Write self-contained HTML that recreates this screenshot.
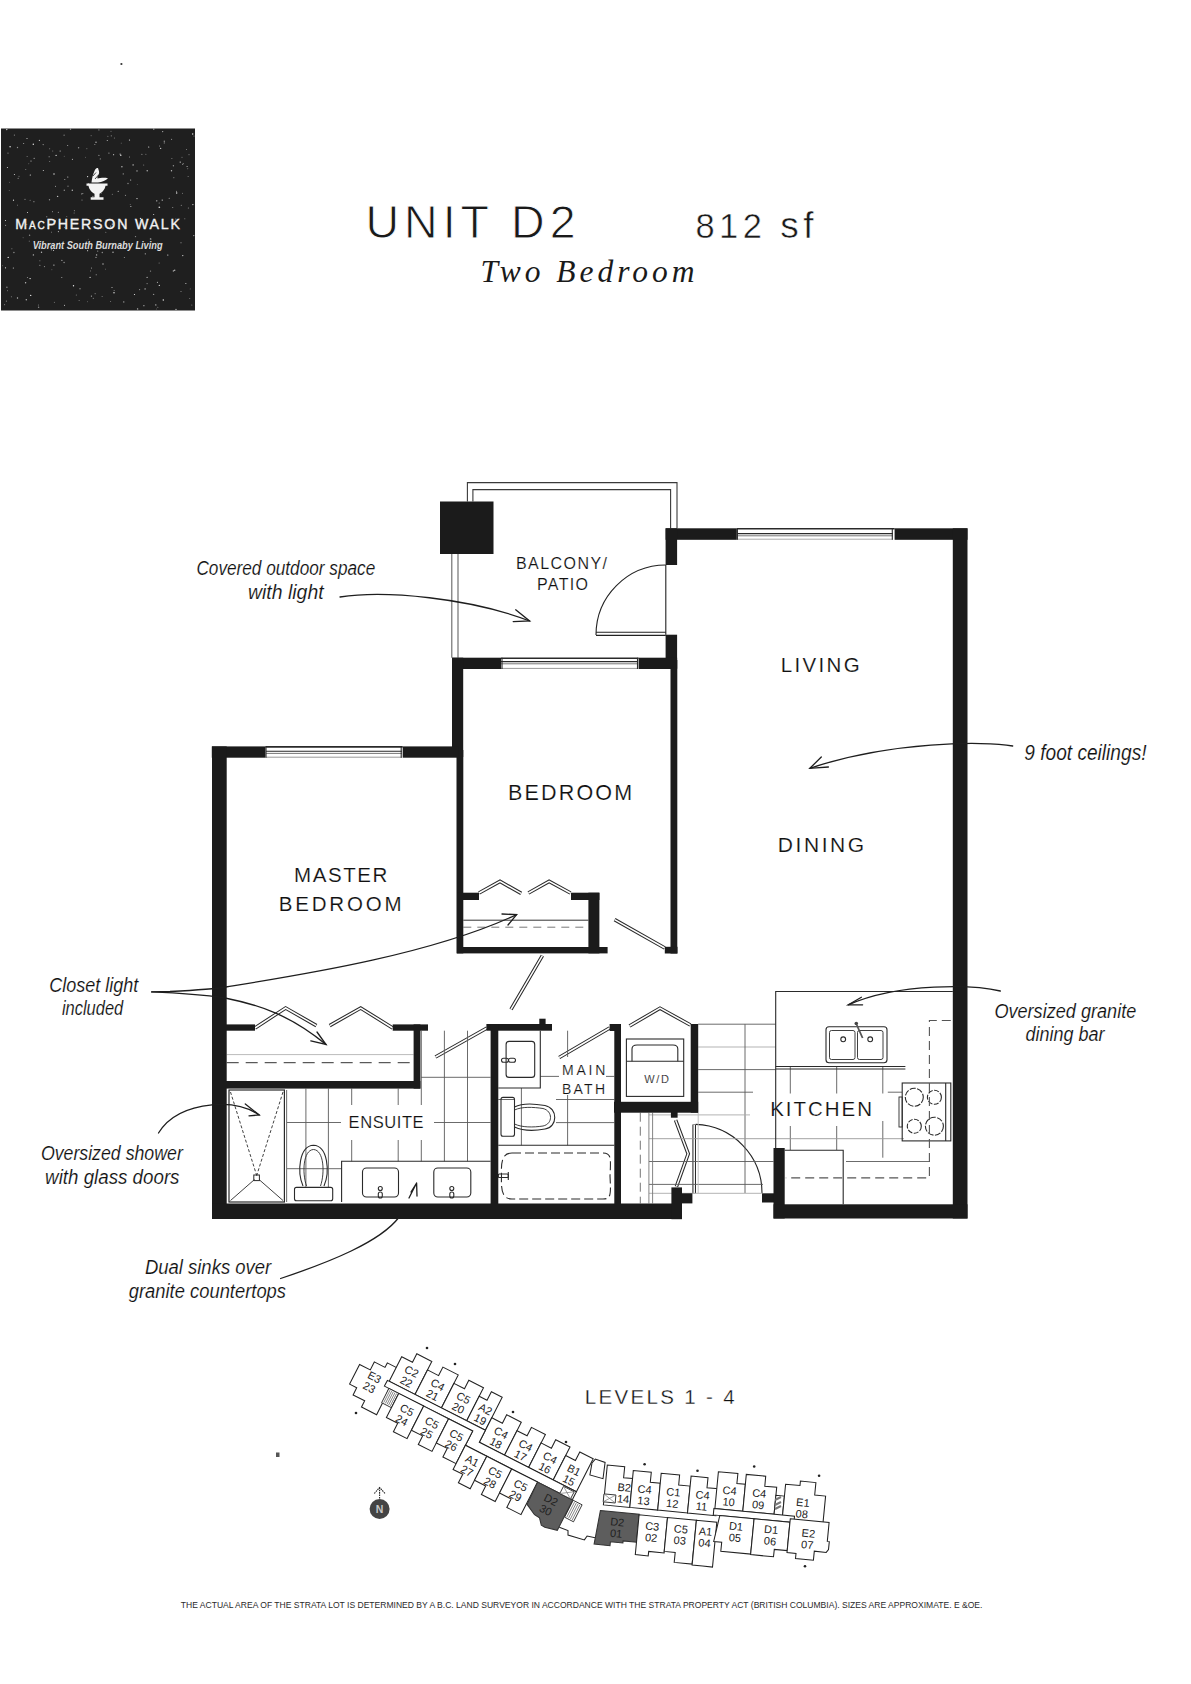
<!DOCTYPE html>
<html><head><meta charset="utf-8">
<style>
html,body{margin:0;padding:0;background:#fff;}
body{width:1191px;height:1684px;position:relative;overflow:hidden;font-family:"Liberation Sans",sans-serif;}
svg{position:absolute;left:0;top:0;}
</style></head>
<body>
<svg width="1191" height="1684" viewBox="0 0 1191 1684" font-family="Liberation Sans">
<!-- LOGO -->
<g id="logo">
<rect x="1" y="128.5" width="194" height="182" fill="#1f1f1f"/>
<g fill="#f4f4f4">
<path d="M86.5 183.5H107.5V185.8H105.5C105 189.5 102 192.5 99.5 193.8V197.2H103.5V199.8H90.7V197.2H94.5V193.8C92 192.5 89 189.5 88.5 185.8H86.5Z"/>
<path d="M91.5 182.5C92 178 93 174 94.5 171C95 169 96.5 167.5 98 168C98.5 170 99.5 171.5 99 173.5C98 175.5 97 177 97.5 178.5C100 178 104 177.5 108 178.2C106 180.5 102 182 98 182.5Z"/>
<path d="M93 176L96 172.5M95 179L98.5 175" stroke="#1f1f1f" stroke-width="0.8"/>
</g>
<text x="15.3" y="228.8" font-size="14.2" fill="#f2f2f2" stroke="#f2f2f2" stroke-width="0.35" textLength="164.7" lengthAdjust="spacing">M<tspan font-size="10">AC</tspan>PHERSON WALK</text>
<text x="32.7" y="249.2" font-size="10" font-style="italic" font-weight="bold" fill="#dcdcdc" textLength="129.9" lengthAdjust="spacingAndGlyphs">Vibrant South Burnaby Living</text>
</g>

<!-- LOGO SPECKLE -->
<g fill="#fff">
<circle cx="64.2" cy="156.3" r="0.45" fill-opacity="0.5"/><circle cx="159.7" cy="146.0" r="0.45" fill-opacity="0.9"/><circle cx="43.2" cy="144.6" r="0.7" fill-opacity="0.5"/><circle cx="48.2" cy="228.7" r="0.45" fill-opacity="0.9"/><circle cx="25.8" cy="169.4" r="0.45" fill-opacity="0.9"/><circle cx="114.4" cy="138.0" r="0.5" fill-opacity="0.5"/><circle cx="108.9" cy="153.1" r="0.7" fill-opacity="0.5"/><circle cx="105.8" cy="232.3" r="0.5" fill-opacity="0.5"/><circle cx="113.7" cy="244.6" r="0.6" fill-opacity="0.5"/><circle cx="107.2" cy="140.4" r="0.45" fill-opacity="0.9"/><circle cx="41.5" cy="252.2" r="0.7" fill-opacity="0.7"/><circle cx="91.4" cy="296.1" r="0.6" fill-opacity="0.7"/><circle cx="49.7" cy="161.5" r="0.5" fill-opacity="0.5"/><circle cx="112.3" cy="224.1" r="0.6" fill-opacity="0.9"/><circle cx="88.2" cy="239.2" r="0.45" fill-opacity="0.5"/><circle cx="100.3" cy="158.9" r="0.6" fill-opacity="0.5"/><circle cx="181.2" cy="205.3" r="0.45" fill-opacity="0.9"/><circle cx="112.0" cy="287.5" r="0.6" fill-opacity="0.7"/><circle cx="135.5" cy="236.6" r="0.7" fill-opacity="0.5"/><circle cx="163.3" cy="300.0" r="0.7" fill-opacity="0.9"/><circle cx="129.5" cy="140.0" r="0.6" fill-opacity="0.9"/><circle cx="113.0" cy="252.3" r="0.7" fill-opacity="0.7"/><circle cx="139.6" cy="289.6" r="0.6" fill-opacity="0.5"/><circle cx="182.6" cy="193.3" r="0.45" fill-opacity="0.7"/><circle cx="13.3" cy="268.1" r="0.5" fill-opacity="0.9"/><circle cx="49.5" cy="199.8" r="0.7" fill-opacity="0.5"/><circle cx="33.9" cy="201.7" r="0.6" fill-opacity="0.5"/><circle cx="159.3" cy="285.4" r="0.6" fill-opacity="0.9"/><circle cx="81.7" cy="193.9" r="0.7" fill-opacity="0.5"/><circle cx="31.0" cy="160.9" r="0.5" fill-opacity="0.9"/><circle cx="46.8" cy="216.8" r="0.5" fill-opacity="0.7"/><circle cx="56.1" cy="155.4" r="0.6" fill-opacity="0.9"/><circle cx="110.7" cy="301.5" r="0.45" fill-opacity="0.7"/><circle cx="174.7" cy="270.2" r="0.7" fill-opacity="0.7"/><circle cx="78.6" cy="147.7" r="0.7" fill-opacity="0.5"/><circle cx="38.6" cy="307.2" r="0.7" fill-opacity="0.5"/><circle cx="23.1" cy="237.7" r="0.45" fill-opacity="0.5"/><circle cx="110.8" cy="226.1" r="0.6" fill-opacity="0.9"/><circle cx="6.9" cy="287.3" r="0.7" fill-opacity="0.5"/><circle cx="123.8" cy="301.9" r="0.6" fill-opacity="0.7"/><circle cx="25.6" cy="282.7" r="0.7" fill-opacity="0.7"/><circle cx="94.9" cy="144.5" r="0.45" fill-opacity="0.9"/><circle cx="67.8" cy="176.9" r="0.5" fill-opacity="0.9"/><circle cx="6.4" cy="301.1" r="0.6" fill-opacity="0.5"/><circle cx="134.5" cy="294.5" r="0.6" fill-opacity="0.9"/><circle cx="167.8" cy="255.0" r="0.6" fill-opacity="0.9"/><circle cx="72.4" cy="159.2" r="0.5" fill-opacity="0.9"/><circle cx="106.0" cy="220.0" r="0.5" fill-opacity="0.9"/><circle cx="157.8" cy="307.3" r="0.5" fill-opacity="0.5"/><circle cx="159.1" cy="262.9" r="0.5" fill-opacity="0.5"/><circle cx="101.4" cy="193.4" r="0.45" fill-opacity="0.5"/><circle cx="153.7" cy="214.5" r="0.5" fill-opacity="0.9"/><circle cx="118.2" cy="191.3" r="0.6" fill-opacity="0.7"/><circle cx="17.5" cy="147.5" r="0.7" fill-opacity="0.5"/><circle cx="66.8" cy="216.4" r="0.45" fill-opacity="0.7"/><circle cx="176.6" cy="191.3" r="0.45" fill-opacity="0.9"/><circle cx="25.0" cy="199.3" r="0.5" fill-opacity="0.7"/><circle cx="172.7" cy="207.5" r="0.6" fill-opacity="0.5"/><circle cx="155.8" cy="304.9" r="0.7" fill-opacity="0.7"/><circle cx="79.1" cy="300.4" r="0.5" fill-opacity="0.5"/><circle cx="192.7" cy="134.0" r="0.7" fill-opacity="0.9"/><circle cx="30.1" cy="278.6" r="0.7" fill-opacity="0.9"/><circle cx="182.0" cy="157.2" r="0.5" fill-opacity="0.5"/><circle cx="4.7" cy="304.7" r="0.45" fill-opacity="0.9"/><circle cx="145.9" cy="154.2" r="0.5" fill-opacity="0.5"/><circle cx="7.4" cy="167.5" r="0.5" fill-opacity="0.9"/><circle cx="64.6" cy="227.5" r="0.5" fill-opacity="0.5"/><circle cx="176.7" cy="193.0" r="0.7" fill-opacity="0.9"/><circle cx="114.0" cy="292.7" r="0.7" fill-opacity="0.9"/><circle cx="27.1" cy="156.5" r="0.45" fill-opacity="0.7"/><circle cx="151.1" cy="239.1" r="0.5" fill-opacity="0.5"/><circle cx="29.2" cy="241.1" r="0.45" fill-opacity="0.9"/><circle cx="13.9" cy="252.5" r="0.7" fill-opacity="0.5"/><circle cx="171.6" cy="139.3" r="0.5" fill-opacity="0.7"/><circle cx="10.1" cy="146.7" r="0.7" fill-opacity="0.9"/><circle cx="7.4" cy="290.8" r="0.45" fill-opacity="0.7"/><circle cx="64.5" cy="305.2" r="0.5" fill-opacity="0.9"/><circle cx="55.2" cy="221.0" r="0.7" fill-opacity="0.9"/><circle cx="182.8" cy="255.6" r="0.6" fill-opacity="0.9"/><circle cx="173.4" cy="165.7" r="0.7" fill-opacity="0.5"/><circle cx="82.0" cy="200.0" r="0.6" fill-opacity="0.5"/><circle cx="130.9" cy="206.5" r="0.5" fill-opacity="0.9"/><circle cx="60.1" cy="151.1" r="0.5" fill-opacity="0.9"/><circle cx="125.5" cy="195.3" r="0.6" fill-opacity="0.5"/><circle cx="187.8" cy="168.7" r="0.45" fill-opacity="0.7"/><circle cx="171.9" cy="158.5" r="0.5" fill-opacity="0.5"/><circle cx="137.6" cy="308.9" r="0.7" fill-opacity="0.7"/><circle cx="82.9" cy="193.5" r="0.45" fill-opacity="0.9"/><circle cx="72.3" cy="190.2" r="0.7" fill-opacity="0.7"/><circle cx="137.0" cy="198.6" r="0.6" fill-opacity="0.9"/><circle cx="186.5" cy="149.4" r="0.5" fill-opacity="0.5"/><circle cx="18.1" cy="178.2" r="0.5" fill-opacity="0.7"/><circle cx="147.1" cy="277.4" r="0.6" fill-opacity="0.7"/><circle cx="30.7" cy="295.4" r="0.7" fill-opacity="0.9"/><circle cx="64.8" cy="179.5" r="0.5" fill-opacity="0.7"/><circle cx="173.9" cy="177.7" r="0.45" fill-opacity="0.9"/><circle cx="19.0" cy="176.2" r="0.5" fill-opacity="0.5"/><circle cx="52.8" cy="151.0" r="0.45" fill-opacity="0.7"/><circle cx="192.9" cy="204.6" r="0.6" fill-opacity="0.9"/><circle cx="26.8" cy="224.4" r="0.5" fill-opacity="0.5"/><circle cx="188.1" cy="176.4" r="0.5" fill-opacity="0.5"/><circle cx="181.0" cy="242.8" r="0.5" fill-opacity="0.7"/><circle cx="87.6" cy="250.7" r="0.6" fill-opacity="0.7"/><circle cx="156.3" cy="309.0" r="0.45" fill-opacity="0.5"/><circle cx="5.5" cy="220.5" r="0.5" fill-opacity="0.9"/><circle cx="93.2" cy="298.2" r="0.45" fill-opacity="0.9"/><circle cx="159.2" cy="207.2" r="0.7" fill-opacity="0.9"/><circle cx="162.2" cy="200.1" r="0.6" fill-opacity="0.9"/><circle cx="43.3" cy="170.6" r="0.5" fill-opacity="0.9"/><circle cx="141.9" cy="154.3" r="0.6" fill-opacity="0.5"/><circle cx="162.7" cy="131.6" r="0.6" fill-opacity="0.7"/><circle cx="33.3" cy="144.3" r="0.7" fill-opacity="0.9"/><circle cx="130.7" cy="180.0" r="0.5" fill-opacity="0.9"/><circle cx="58.3" cy="212.2" r="0.5" fill-opacity="0.7"/><circle cx="87.6" cy="176.6" r="0.6" fill-opacity="0.9"/><circle cx="64.1" cy="135.2" r="0.6" fill-opacity="0.5"/><circle cx="70.5" cy="129.2" r="0.7" fill-opacity="0.5"/><circle cx="93.1" cy="220.0" r="0.5" fill-opacity="0.5"/><circle cx="98.9" cy="129.9" r="0.6" fill-opacity="0.5"/><circle cx="29.6" cy="235.2" r="0.7" fill-opacity="0.5"/><circle cx="59.5" cy="243.0" r="0.45" fill-opacity="0.9"/><circle cx="185.9" cy="283.4" r="0.5" fill-opacity="0.9"/><circle cx="173.4" cy="270.9" r="0.7" fill-opacity="0.7"/><circle cx="140.4" cy="218.4" r="0.6" fill-opacity="0.9"/><circle cx="120.8" cy="155.2" r="0.7" fill-opacity="0.9"/><circle cx="136.6" cy="220.5" r="0.45" fill-opacity="0.9"/><circle cx="114.1" cy="290.6" r="0.5" fill-opacity="0.5"/><circle cx="8.0" cy="153.1" r="0.6" fill-opacity="0.5"/><circle cx="74.3" cy="210.7" r="0.45" fill-opacity="0.9"/><circle cx="5.6" cy="225.2" r="0.5" fill-opacity="0.7"/><circle cx="52.6" cy="211.7" r="0.45" fill-opacity="0.9"/><circle cx="181.0" cy="291.5" r="0.45" fill-opacity="0.9"/><circle cx="103.0" cy="264.0" r="0.7" fill-opacity="0.7"/><circle cx="157.4" cy="282.2" r="0.5" fill-opacity="0.9"/><circle cx="147.2" cy="170.8" r="0.7" fill-opacity="0.7"/><circle cx="164.3" cy="142.9" r="0.6" fill-opacity="0.5"/><circle cx="120.5" cy="245.3" r="0.45" fill-opacity="0.9"/><circle cx="30.3" cy="175.0" r="0.6" fill-opacity="0.9"/><circle cx="111.0" cy="131.3" r="0.45" fill-opacity="0.7"/><circle cx="53.6" cy="250.6" r="0.5" fill-opacity="0.9"/><circle cx="96.0" cy="257.3" r="0.6" fill-opacity="0.7"/><circle cx="91.5" cy="267.9" r="0.5" fill-opacity="0.7"/><circle cx="189.8" cy="298.5" r="0.45" fill-opacity="0.7"/><circle cx="90.1" cy="277.4" r="0.7" fill-opacity="0.7"/><circle cx="76.3" cy="294.9" r="0.5" fill-opacity="0.5"/><circle cx="113.6" cy="154.7" r="0.6" fill-opacity="0.7"/><circle cx="27.5" cy="277.5" r="0.6" fill-opacity="0.5"/><circle cx="137.0" cy="170.9" r="0.7" fill-opacity="0.7"/><circle cx="6.8" cy="129.6" r="0.7" fill-opacity="0.9"/><circle cx="88.5" cy="183.7" r="0.5" fill-opacity="0.7"/><circle cx="68.0" cy="186.2" r="0.6" fill-opacity="0.5"/><circle cx="64.3" cy="190.2" r="0.7" fill-opacity="0.5"/><circle cx="182.5" cy="164.4" r="0.45" fill-opacity="0.9"/><circle cx="57.6" cy="196.4" r="0.7" fill-opacity="0.7"/><circle cx="193.8" cy="235.6" r="0.6" fill-opacity="0.7"/><circle cx="147.1" cy="283.6" r="0.6" fill-opacity="0.5"/><circle cx="11.9" cy="248.8" r="0.5" fill-opacity="0.5"/><circle cx="188.4" cy="208.0" r="0.6" fill-opacity="0.5"/><circle cx="150.5" cy="271.1" r="0.7" fill-opacity="0.5"/><circle cx="157.9" cy="243.2" r="0.5" fill-opacity="0.9"/><circle cx="17.5" cy="298.0" r="0.7" fill-opacity="0.7"/><circle cx="120.1" cy="154.1" r="0.6" fill-opacity="0.7"/><circle cx="11.4" cy="296.7" r="0.5" fill-opacity="0.5"/><circle cx="92.7" cy="191.2" r="0.6" fill-opacity="0.7"/><circle cx="143.9" cy="305.7" r="0.6" fill-opacity="0.7"/><circle cx="128.0" cy="183.5" r="0.7" fill-opacity="0.5"/><circle cx="34.1" cy="158.3" r="0.5" fill-opacity="0.9"/><circle cx="175.9" cy="219.0" r="0.5" fill-opacity="0.7"/><circle cx="176.0" cy="309.4" r="0.7" fill-opacity="0.7"/><circle cx="28.8" cy="163.8" r="0.45" fill-opacity="0.5"/><circle cx="67.7" cy="145.5" r="0.5" fill-opacity="0.7"/><circle cx="51.6" cy="232.1" r="0.45" fill-opacity="0.9"/><circle cx="169.2" cy="198.3" r="0.5" fill-opacity="0.7"/><circle cx="53.9" cy="265.1" r="0.7" fill-opacity="0.7"/><circle cx="112.3" cy="194.2" r="0.5" fill-opacity="0.5"/><circle cx="54.0" cy="174.0" r="0.7" fill-opacity="0.9"/><circle cx="87.6" cy="301.7" r="0.45" fill-opacity="0.5"/><circle cx="8.2" cy="257.4" r="0.7" fill-opacity="0.9"/><circle cx="96.0" cy="142.2" r="0.7" fill-opacity="0.7"/><circle cx="49.7" cy="148.7" r="0.5" fill-opacity="0.5"/><circle cx="102.3" cy="252.5" r="0.7" fill-opacity="0.5"/><circle cx="107.9" cy="136.2" r="0.5" fill-opacity="0.5"/><circle cx="111.3" cy="135.8" r="0.6" fill-opacity="0.5"/><circle cx="122.3" cy="224.6" r="0.7" fill-opacity="0.9"/><circle cx="148.7" cy="147.0" r="0.6" fill-opacity="0.9"/><circle cx="183.2" cy="163.7" r="0.6" fill-opacity="0.5"/><circle cx="153.8" cy="129.2" r="0.6" fill-opacity="0.7"/><circle cx="55.5" cy="186.3" r="0.5" fill-opacity="0.7"/><circle cx="103.0" cy="228.0" r="0.45" fill-opacity="0.7"/><circle cx="137.3" cy="184.6" r="0.45" fill-opacity="0.5"/><circle cx="97.7" cy="251.1" r="0.7" fill-opacity="0.5"/><circle cx="51.4" cy="249.8" r="0.6" fill-opacity="0.5"/><circle cx="96.6" cy="254.9" r="0.7" fill-opacity="0.7"/><circle cx="133.1" cy="164.9" r="0.6" fill-opacity="0.9"/><circle cx="164.3" cy="141.2" r="0.7" fill-opacity="0.5"/><circle cx="61.8" cy="277.4" r="0.5" fill-opacity="0.7"/><circle cx="44.5" cy="266.6" r="0.6" fill-opacity="0.5"/><circle cx="184.8" cy="218.7" r="0.5" fill-opacity="0.5"/><circle cx="95.1" cy="293.8" r="0.45" fill-opacity="0.9"/><circle cx="30.1" cy="200.2" r="0.5" fill-opacity="0.5"/><circle cx="189.0" cy="154.7" r="0.45" fill-opacity="0.9"/><circle cx="13.5" cy="200.2" r="0.6" fill-opacity="0.9"/><circle cx="23.7" cy="143.4" r="0.5" fill-opacity="0.7"/><circle cx="38.6" cy="247.1" r="0.7" fill-opacity="0.5"/><circle cx="61.9" cy="260.3" r="0.6" fill-opacity="0.7"/><circle cx="86.9" cy="148.7" r="0.45" fill-opacity="0.7"/><circle cx="17.5" cy="205.1" r="0.45" fill-opacity="0.9"/><circle cx="187.1" cy="166.5" r="0.6" fill-opacity="0.7"/><circle cx="159.8" cy="207.3" r="0.45" fill-opacity="0.9"/><circle cx="92.9" cy="196.5" r="0.7" fill-opacity="0.5"/><circle cx="64.1" cy="262.5" r="0.7" fill-opacity="0.5"/><circle cx="123.3" cy="173.9" r="0.7" fill-opacity="0.5"/><circle cx="74.1" cy="213.0" r="0.45" fill-opacity="0.7"/><circle cx="39.4" cy="140.4" r="0.6" fill-opacity="0.7"/><circle cx="54.3" cy="302.3" r="0.45" fill-opacity="0.7"/><circle cx="145.3" cy="253.8" r="0.6" fill-opacity="0.7"/><circle cx="2.7" cy="265.8" r="0.45" fill-opacity="0.5"/><circle cx="160.6" cy="148.4" r="0.7" fill-opacity="0.7"/><circle cx="153.6" cy="294.4" r="0.7" fill-opacity="0.5"/><circle cx="180.2" cy="162.1" r="0.6" fill-opacity="0.9"/><circle cx="150.4" cy="238.9" r="0.6" fill-opacity="0.7"/><circle cx="90.5" cy="270.9" r="0.45" fill-opacity="0.9"/><circle cx="39.9" cy="265.3" r="0.5" fill-opacity="0.7"/><circle cx="14.4" cy="135.1" r="0.6" fill-opacity="0.5"/><circle cx="190.2" cy="288.9" r="0.45" fill-opacity="0.7"/><circle cx="121.9" cy="166.7" r="0.7" fill-opacity="0.7"/><circle cx="191.8" cy="305.0" r="0.5" fill-opacity="0.5"/><circle cx="27.5" cy="212.4" r="0.5" fill-opacity="0.9"/><circle cx="105.4" cy="269.1" r="0.45" fill-opacity="0.7"/><circle cx="58.4" cy="231.6" r="0.6" fill-opacity="0.7"/><circle cx="143.7" cy="165.1" r="0.5" fill-opacity="0.5"/><circle cx="49.1" cy="156.8" r="0.5" fill-opacity="0.7"/><circle cx="14.4" cy="174.5" r="0.5" fill-opacity="0.9"/><circle cx="103.1" cy="246.6" r="0.45" fill-opacity="0.9"/><circle cx="91.1" cy="135.7" r="0.45" fill-opacity="0.7"/><circle cx="171.5" cy="170.8" r="0.7" fill-opacity="0.7"/><circle cx="9.7" cy="182.2" r="0.45" fill-opacity="0.5"/><circle cx="38.4" cy="305.1" r="0.5" fill-opacity="0.5"/><circle cx="73.5" cy="285.8" r="0.7" fill-opacity="0.9"/><circle cx="51.9" cy="269.8" r="0.45" fill-opacity="0.5"/><circle cx="124.4" cy="257.5" r="0.6" fill-opacity="0.5"/><circle cx="9.2" cy="190.5" r="0.45" fill-opacity="0.5"/><circle cx="194.0" cy="135.9" r="0.5" fill-opacity="0.5"/><circle cx="159.2" cy="203.0" r="0.6" fill-opacity="0.5"/><circle cx="121.2" cy="143.1" r="0.45" fill-opacity="0.7"/><circle cx="107.2" cy="140.5" r="0.45" fill-opacity="0.7"/><circle cx="129.5" cy="157.0" r="0.45" fill-opacity="0.9"/><circle cx="33.4" cy="254.9" r="0.7" fill-opacity="0.7"/><circle cx="130.2" cy="204.6" r="0.45" fill-opacity="0.7"/><circle cx="145.1" cy="288.9" r="0.7" fill-opacity="0.7"/><circle cx="5.5" cy="267.8" r="0.6" fill-opacity="0.9"/><circle cx="39.9" cy="260.8" r="0.5" fill-opacity="0.5"/><circle cx="85.4" cy="157.3" r="0.45" fill-opacity="0.5"/><circle cx="80.0" cy="288.8" r="0.7" fill-opacity="0.5"/><circle cx="27.0" cy="138.4" r="0.5" fill-opacity="0.9"/><circle cx="156.8" cy="200.8" r="0.6" fill-opacity="0.9"/><circle cx="98.9" cy="155.4" r="0.6" fill-opacity="0.5"/><circle cx="102.1" cy="296.5" r="0.45" fill-opacity="0.7"/><circle cx="96.2" cy="274.7" r="0.5" fill-opacity="0.7"/><circle cx="26.3" cy="299.7" r="0.7" fill-opacity="0.7"/>
</g>

<!-- TITLE -->
<g id="title" fill="#1a1a1a" stroke="#fff" stroke-width="0.9">
<text x="365.5" y="238.3" font-size="46.5" textLength="210" lengthAdjust="spacing">UNIT D2</text>
<text x="695.5" y="238.3" stroke-width="0.5" font-size="34.5" textLength="118" lengthAdjust="spacing">812 <tspan font-size="37">sf</tspan></text>
<text x="480.5" y="281.7" stroke-width="0" font-family="Liberation Serif" font-style="italic" font-size="31.5" textLength="214" lengthAdjust="spacing">Two Bedroom</text>
</g>

<!-- WINDOWS -->
<g id="windows" fill="none" stroke="#2a2a2a">
<path d="M736.8 528.8H894.6" stroke-width="1.6"/>
<path d="M737 533.6H893" stroke-width="1.1"/>
<path d="M737 535.8H893" stroke-width="1" stroke="#777"/>
<path d="M737 539.2H893" stroke-width="1" stroke="#aaa"/>
<path d="M737.4 528.5V539.8M892.3 528.5V539.8" stroke-width="1.1"/>
<path d="M501 658.2H638.6" stroke-width="1.6"/>
<path d="M501 661.6H638" stroke-width="1.1"/>
<path d="M501 663.8H638" stroke-width="1" stroke="#777"/>
<path d="M501 668.4H638" stroke-width="1" stroke="#999"/>
<path d="M502 657.7V669M637.5 657.7V669" stroke-width="1.1"/>
<path d="M265.4 746.9H402.7" stroke-width="1.6"/>
<path d="M266 751.2H402" stroke-width="1.1"/>
<path d="M266 753.4H402" stroke-width="1" stroke="#777"/>
<path d="M266 757.2H402" stroke-width="1" stroke="#999"/>
<path d="M266 746.4V757.7M401.2 746.4V757.7" stroke-width="1.1"/>
</g>
<!-- BALCONY RAILING -->
<g id="rail" fill="none" stroke="#3a3a3a" stroke-width="1.1">
<path d="M467.4 501.5V482.6H677V528.3"/>
<path d="M472.9 501.5V489.6H670.6V528.3"/>
<path d="M451.8 554V657.7M458 554V657.7" stroke="#666"/>
</g>

<!-- DOORS -->
<g id="doors" fill="none" stroke="#222" stroke-width="1.1">
<path d="M665.8 565V634.7"/>
<path d="M665.8 565A70 70 0 0 0 596 635"/>
<path d="M596 632.2H665.8M596 635.4H665.8"/>
<path d="M695.7 1124.4A68.5 68.5 0 0 1 762 1193"/>
</g>
<g id="doors2" fill="none" stroke-linejoin="miter">
<g stroke="#2a2a2a" stroke-width="3.6">
<path id="dl" d="M479 893L500 881.4L521.2 893.4M528.4 893L549.1 881.4L570.5 893M614.6 919.6L664.8 948M255 1028L285.6 1008L316.4 1025.6M329.7 1025.6L360.7 1008L392.7 1028M435.5 1057L487 1028M559.2 1057.5L609.6 1028M511 1009.3L542.4 955.7M629.5 1026L660 1008.2L690.4 1025M675.6 1120.2L688.2 1153.8L676.4 1186.6M694.2 1124.4V1193.3"/>
</g>
<g stroke="#fff" stroke-width="1.5">
<path d="M479 893L500 881.4L521.2 893.4M528.4 893L549.1 881.4L570.5 893M614.6 919.6L664.8 948M255 1028L285.6 1008L316.4 1025.6M329.7 1025.6L360.7 1008L392.7 1028M435.5 1057L487 1028M559.2 1057.5L609.6 1028M511 1009.3L542.4 955.7M629.5 1026L660 1008.2L690.4 1025M675.6 1120.2L688.2 1153.8L676.4 1186.6M694.2 1125V1193.3"/>
</g>
</g>

<!-- CLOSET SHELVES -->
<g fill="none" stroke="#333" stroke-width="1">
<path d="M463.3 920.2H588.4"/>
<path d="M463.3 927.2H588.4" stroke-dasharray="8 6" stroke="#777"/>
<path d="M226.7 1054.6H413.6" stroke="#bbb"/>
<path d="M226.7 1062.7H413.6" stroke-dasharray="12 7"/>
</g>

<!-- TILES -->
<g id="tiles" fill="none" stroke="#5a5a5a" stroke-width="0.9">
<!-- ensuite -->
<path d="M305.9 1088.6V1187M328.4 1088.6V1187M351.7 1088.6V1105M351.7 1140V1161.3M398.2 1088.6V1105M398.2 1140V1161.3M421.3 1030.7V1105M421.3 1140V1161.3M444.4 1030.7V1161.3M467.5 1030.7V1161.3"/>
<path d="M421 1077.3H490.6"/>
<path d="M287 1122.5H341M434 1122.5H490.6"/>
<path d="M287 1168.7H341.6"/>
<!-- main bath -->
<path d="M521.4 1088V1145.3M567.6 1030.7V1057M567.6 1095V1145.3"/>
<path d="M540.3 1076.4H559M606 1076.4H614.3" />
<path d="M498.3 1099.5H514.5M556 1099.5H614.3"/>
<path d="M556 1122.6H614.3"/>
<!-- W/D right side / kitchen -->
<path d="M698.2 1024.2H775.7M698.2 1069.6H775.7M698.2 1092.2H753M887.8 1092.2H902"/><path d="M698.2 1047H775.7" stroke="#aaa"/>
<path d="M745 1024.2V1193M790.3 1067V1093.5M790.3 1126V1150M836.7 1067V1093.5M836.7 1126V1150M882.8 1067V1093.5M882.8 1121V1157.7"/>
<path d="M649 1138.7H904" stroke="#999"/><path d="M649 1161.5H773.5M846 1161.5H929.4M649 1184.4H763" /><path d="M649 1114.9H750" stroke="#aaa"/>
<path d="M698.2 1112.7V1193" stroke="#bbb"/>
<path d="M649 1193.3H762" stroke="#aaa"/>
<path d="M640.3 1112.7V1203.4" stroke-dasharray="9 5" stroke="#666"/>
<path d="M648.9 1112.7V1203.4M652.6 1112.7V1203.4" stroke="#777"/>
</g>

<!-- FIXTURES -->
<g id="fixtures" fill="none" stroke="#2a2a2a" stroke-width="1.1">
<!-- shower -->
<rect x="229" y="1090" width="55.4" height="112" stroke-width="1.2"/>
<path d="M286.6 1090V1202" stroke="#777"/>
<path d="M230.5 1092L256.7 1175.5M283 1092L256.7 1175.5" stroke-dasharray="3 2" stroke-width="0.9"/>
<path d="M254.5 1179.5L230.5 1200.5M259 1179.5L283 1200.5" stroke-width="0.9"/>
<rect x="253.8" y="1175" width="5.6" height="5.6" stroke-width="1"/>
<!-- ensuite toilet -->
<rect x="294.5" y="1187.4" width="38.2" height="13.3" rx="2"/>
<path d="M303 1186C297 1172 299 1146 313.5 1145.3C328 1146 330 1172 324 1186"/>
<path d="M306.5 1186C302 1173 303 1150 313.5 1149.5C324 1150 325 1173 320.5 1186" stroke-width="0.9"/>
<!-- vanity -->
<path d="M341.6 1202V1161.2H490.6"/>
<rect x="362.5" y="1168" width="36" height="29" rx="4"/>
<rect x="433.8" y="1168" width="37" height="29" rx="4"/>
<circle cx="380.3" cy="1188.5" r="2"/><rect x="378.3" y="1192" width="4" height="6" rx="2"/>
<circle cx="451.8" cy="1188.5" r="2"/><rect x="449.8" y="1192" width="4" height="6" rx="2"/>
<!-- main bath vanity -->
<path d="M498.3 1088H540.3V1030.7"/>
<rect x="506.1" y="1041.4" width="28.6" height="36" rx="3"/>
<rect x="501.5" y="1058.3" width="7" height="4" rx="2"/><rect x="508.5" y="1058.3" width="7" height="4" rx="2"/>
<!-- main bath toilet -->
<rect x="501" y="1097.4" width="13.5" height="38.9" rx="2"/>
<path d="M514.5 1107C522 1103 534 1103.5 545 1105.5C558 1108 558 1127 545 1129C534 1131 522 1130.5 514.5 1127"/>
<path d="M514.5 1110C522 1106.5 533 1107 543 1108.5C553 1111 553 1124 543 1126C533 1127.5 522 1127.5 514.5 1124" stroke-width="0.9"/>
<!-- tub -->
<path d="M498.3 1145.3H614.3"/>
<path d="M512 1153H603C611 1153 611 1157 610 1176C611 1195 611 1199 603 1199H512C502 1199 501 1190 501.5 1176C501 1162 502 1153 512 1153Z" stroke-dasharray="9 4"/>
<rect x="498.3" y="1174" width="10" height="3.5" rx="1"/>
<path d="M508.3 1172V1180"/>
<!-- W/D -->
<rect x="626.4" y="1039" width="57.3" height="57.4"/>
<path d="M626.4 1061.3H683.7"/>
<path d="M632 1061.3V1049C632 1046 634 1045 637 1045H673C676 1045 677.8 1046 677.8 1049V1061.3"/>
<!-- kitchen counters -->
<path d="M775.7 1148V991.5H952.8"/>
<path d="M775.7 1066.5H905.4M775.7 1069H905.4" stroke-width="1"/>
<rect x="826" y="1026.8" width="61" height="36" rx="3"/>
<rect x="829.5" y="1030.5" width="25.5" height="29" rx="2" stroke-width="0.9"/>
<rect x="857.5" y="1030.5" width="25.5" height="29" rx="2" stroke-width="0.9"/>
<circle cx="843.2" cy="1039.3" r="2.4"/><circle cx="870.2" cy="1039.3" r="2.4"/>
<path d="M856.8 1025L862.6 1038" stroke-width="1.8" stroke="#555"/>
<circle cx="856.3" cy="1023.5" r="1.8" fill="#444" stroke="none"/>
<!-- stove -->
<rect x="902.2" y="1083" width="48.6" height="57.9"/>
<path d="M945.7 1083V1140.9"/>
<rect x="899" y="1097" width="3.2" height="30" stroke-width="0.9"/>
<circle cx="914.3" cy="1097.3" r="9" stroke-dasharray="6 1.5"/>
<circle cx="934.4" cy="1097.3" r="7" stroke-dasharray="5 1.5"/>
<circle cx="914.3" cy="1126.2" r="7" stroke-dasharray="5 1.5"/>
<circle cx="934.4" cy="1126.2" r="9" stroke-dasharray="6 1.5"/>
<!-- dashed upper cabinets -->
<path d="M950.8 1020.5H929.4V1177.9H785.8" stroke-dasharray="9 5" stroke="#555"/>
<!-- pantry -->
<path d="M784.7 1150.2H843.2V1204.3"/>
</g>

<!-- KEYPLAN -->
<g id="keyplan" font-family="Liberation Sans" fill="#222" stroke-width="0">
<polygon points="388.9,1388.4 391.9,1382.6 390.1,1381.7 397.1,1367.9 387.3,1362.9 385.0,1367.4 374.3,1361.9 370.3,1369.9 359.6,1364.5 349.6,1384.1 356.7,1387.7 353.1,1394.9 364.7,1400.8 361.5,1407.0 376.6,1414.7 382.5,1403.1" fill="#fff" stroke="#222" stroke-width="1.05" stroke-linejoin="miter"/>
<g transform="translate(372.4,1381.1) rotate(27)"><text x="0" y="-0.5" font-size="11" text-anchor="middle">E3</text><text x="0" y="11.0" font-size="11" text-anchor="middle">23</text></g>
<polygon points="389.2,1381.3 401.7,1356.8 412.5,1362.3 416.8,1353.8 431.8,1361.5 415.0,1394.4" fill="#fff" stroke="#222" stroke-width="1.05" stroke-linejoin="miter"/>
<g transform="translate(409.6,1375.4) rotate(27)"><text x="0" y="-0.5" font-size="11" text-anchor="middle">C2</text><text x="0" y="11.0" font-size="11" text-anchor="middle">22</text></g>
<polygon points="415.0,1394.4 427.5,1369.9 438.6,1375.6 442.9,1367.1 458.2,1374.9 441.4,1407.9" fill="#fff" stroke="#222" stroke-width="1.05" stroke-linejoin="miter"/>
<g transform="translate(435.7,1388.7) rotate(27)"><text x="0" y="-0.5" font-size="11" text-anchor="middle">C4</text><text x="0" y="11.0" font-size="11" text-anchor="middle">21</text></g>
<polygon points="441.4,1407.9 453.9,1383.4 464.5,1388.8 468.8,1380.3 483.5,1387.8 466.7,1420.8" fill="#fff" stroke="#222" stroke-width="1.05" stroke-linejoin="miter"/>
<g transform="translate(461.5,1401.8) rotate(27)"><text x="0" y="-0.5" font-size="11" text-anchor="middle">C5</text><text x="0" y="11.0" font-size="11" text-anchor="middle">20</text></g>
<polygon points="466.7,1420.8 479.2,1396.3 487.0,1400.3 491.4,1391.8 502.2,1397.3 485.4,1430.3" fill="#fff" stroke="#222" stroke-width="1.05" stroke-linejoin="miter"/>
<g transform="translate(483.5,1413.1) rotate(27)"><text x="0" y="-0.5" font-size="11" text-anchor="middle">A2</text><text x="0" y="11.0" font-size="11" text-anchor="middle">19</text></g>
<polygon points="479.3,1442.3 491.8,1417.8 502.4,1423.2 506.7,1414.8 521.3,1422.2 504.5,1455.2" fill="#fff" stroke="#222" stroke-width="1.05" stroke-linejoin="miter"/>
<g transform="translate(499.1,1436.7) rotate(27)"><text x="0" y="-0.5" font-size="11" text-anchor="middle">C4</text><text x="0" y="11.0" font-size="11" text-anchor="middle">18</text></g>
<polygon points="504.5,1455.2 517.0,1430.7 527.1,1435.8 531.4,1427.4 545.4,1434.5 528.6,1467.4" fill="#fff" stroke="#222" stroke-width="1.05" stroke-linejoin="miter"/>
<g transform="translate(523.8,1449.3) rotate(27)"><text x="0" y="-0.5" font-size="11" text-anchor="middle">C4</text><text x="0" y="11.0" font-size="11" text-anchor="middle">17</text></g>
<polygon points="528.6,1467.4 541.0,1442.9 551.4,1448.2 555.7,1439.7 570.0,1447.0 553.2,1480.0" fill="#fff" stroke="#222" stroke-width="1.05" stroke-linejoin="miter"/>
<g transform="translate(548.1,1461.7) rotate(27)"><text x="0" y="-0.5" font-size="11" text-anchor="middle">C4</text><text x="0" y="11.0" font-size="11" text-anchor="middle">16</text></g>
<polygon points="553.2,1480.0 565.7,1455.5 575.4,1460.5 579.8,1452.0 593.2,1458.8 576.4,1491.8" fill="#fff" stroke="#222" stroke-width="1.05" stroke-linejoin="miter"/>
<g transform="translate(572.1,1473.9) rotate(27)"><text x="0" y="-0.5" font-size="11" text-anchor="middle">B1</text><text x="0" y="11.0" font-size="11" text-anchor="middle">15</text></g>
<polygon points="387.4,1380.4 485.4,1430.3 479.3,1442.3 576.4,1491.8 572.3,1499.8 465.4,1445.3 472.7,1431.1 384.4,1386.1" fill="#fff" stroke="#222" stroke-width="1.05" stroke-linejoin="miter"/>
<polygon points="388.9,1388.4 398.7,1393.4 391.4,1407.7 381.6,1402.7" fill="#fff" stroke="#222" stroke-width="0.9" stroke-linejoin="miter"/>
<path d="M390.1 1390.1L383.7 1402.6M391.7 1391.0L385.4 1403.4M393.3 1391.8L387.0 1404.3M395.0 1392.6L388.6 1405.1M396.6 1393.5L390.3 1405.9" stroke="#666" stroke-width="0.8"/>
<polygon points="398.7,1393.4 386.4,1417.5 397.7,1423.2 393.4,1431.7 407.1,1438.6 423.7,1406.1" fill="#fff" stroke="#222" stroke-width="1.05" stroke-linejoin="miter"/>
<g transform="translate(405.0,1414.0) rotate(27)"><text x="0" y="-0.5" font-size="11" text-anchor="middle">C5</text><text x="0" y="11.0" font-size="11" text-anchor="middle">24</text></g>
<polygon points="423.7,1406.1 411.4,1430.2 422.6,1435.9 418.3,1444.4 432.0,1451.4 448.6,1418.8" fill="#fff" stroke="#222" stroke-width="1.05" stroke-linejoin="miter"/>
<g transform="translate(430.0,1426.7) rotate(27)"><text x="0" y="-0.5" font-size="11" text-anchor="middle">C5</text><text x="0" y="11.0" font-size="11" text-anchor="middle">25</text></g>
<polygon points="448.6,1418.8 436.3,1442.9 447.2,1448.4 442.9,1456.9 456.1,1463.6 472.7,1431.1" fill="#fff" stroke="#222" stroke-width="1.05" stroke-linejoin="miter"/>
<g transform="translate(454.5,1439.2) rotate(27)"><text x="0" y="-0.5" font-size="11" text-anchor="middle">C5</text><text x="0" y="11.0" font-size="11" text-anchor="middle">26</text></g>
<polygon points="465.4,1445.3 453.1,1469.4 462.8,1474.3 458.4,1482.8 470.2,1488.8 486.8,1456.2" fill="#fff" stroke="#222" stroke-width="1.05" stroke-linejoin="miter"/>
<g transform="translate(470.2,1464.6) rotate(27)"><text x="0" y="-0.5" font-size="11" text-anchor="middle">A1</text><text x="0" y="11.0" font-size="11" text-anchor="middle">27</text></g>
<polygon points="486.8,1456.2 474.5,1480.3 485.7,1486.0 481.4,1494.5 495.2,1501.5 511.7,1469.0" fill="#fff" stroke="#222" stroke-width="1.05" stroke-linejoin="miter"/>
<g transform="translate(493.3,1476.4) rotate(27)"><text x="0" y="-0.5" font-size="11" text-anchor="middle">C5</text><text x="0" y="11.0" font-size="11" text-anchor="middle">28</text></g>
<polygon points="511.7,1469.0 499.5,1493.0 511.1,1498.9 506.8,1507.4 521.0,1514.6 537.6,1482.1" fill="#fff" stroke="#222" stroke-width="1.05" stroke-linejoin="miter"/>
<g transform="translate(518.7,1489.4) rotate(27)"><text x="0" y="-0.5" font-size="11" text-anchor="middle">C5</text><text x="0" y="11.0" font-size="11" text-anchor="middle">29</text></g>
<polygon points="537.6,1482.1 572.8,1500.1 557.3,1530.3 544.8,1527.3 541.3,1525.1 539.5,1517.9 534.5,1514.7 527.1,1504.4" fill="#5d5d5d" stroke="#333" stroke-width="1.05" stroke-linejoin="miter"/>
<g transform="translate(549.0,1503.7) rotate(27)"><text x="0" y="-0.5" font-size="11" text-anchor="middle">D2</text><text x="0" y="11.0" font-size="11" text-anchor="middle">30</text></g>
<polygon points="573.2,1500.3 582.1,1504.8 573.5,1521.8 564.6,1517.2" fill="#fff" stroke="#222" stroke-width="0.9" stroke-linejoin="miter"/>
<path d="M574.5 1502.1L566.8 1517.2M576.3 1503.0L568.6 1518.1M578.1 1503.9L570.4 1519.0M579.9 1504.8L572.2 1520.0" stroke="#666" stroke-width="0.8"/>
<polygon points="563.5,1486.3 574.2,1491.8 570.5,1498.9 559.8,1493.5" fill="#fff" stroke="#222" stroke-width="0.9" stroke-linejoin="miter"/>
<path d="M563.5 1486.3L570.5 1498.9M574.2 1491.8L559.8 1493.5" stroke="#777" stroke-width="0.7"/>
<polygon points="589.9,1474.9 592,1462.9 595.3,1459.1 605.1,1462.4 603,1478.7" fill="#fff" stroke="#222" stroke-width="1.05"/><path d="M559.3 1527.3L568 1530.6L568 1535L584.4 1539.9L587.1 1536L597.5 1538.2" fill="none" stroke="#222" stroke-width="1.05"/>
<polygon points="603.4,1504.9 607.3,1465.0 624.7,1466.7 623.6,1477.7 632.6,1478.5 629.8,1507.4" fill="#fff" stroke="#222" stroke-width="1.05" stroke-linejoin="miter"/>
<polygon points="604.0,1493.9 615.9,1495.0 615.2,1503.0 603.2,1501.8" fill="#fff" stroke="#222" stroke-width="0.9" stroke-linejoin="miter"/>
<path d="M604.0 1493.9L615.2 1503.0M615.9 1495.0L603.2 1501.8" stroke="#777" stroke-width="0.7"/>
<g transform="translate(623.8,1491.8) rotate(5.5)"><text x="0" y="-0.5" font-size="11" text-anchor="middle">B2</text><text x="0" y="11.0" font-size="11" text-anchor="middle">14</text></g>
<polygon points="629.8,1507.4 633.3,1470.6 651.3,1472.3 650.3,1482.2 660.3,1483.2 657.7,1510.1" fill="#fff" stroke="#222" stroke-width="1.05" stroke-linejoin="miter"/>
<g transform="translate(644.2,1493.7) rotate(5.5)"><text x="0" y="-0.5" font-size="11" text-anchor="middle">C4</text><text x="0" y="11.0" font-size="11" text-anchor="middle">13</text></g>
<polygon points="657.7,1510.1 661.2,1473.3 679.6,1475.0 678.7,1485.0 690.1,1486.1 687.5,1513.0" fill="#fff" stroke="#222" stroke-width="1.05" stroke-linejoin="miter"/>
<g transform="translate(673.0,1496.5) rotate(5.5)"><text x="0" y="-0.5" font-size="11" text-anchor="middle">C1</text><text x="0" y="11.0" font-size="11" text-anchor="middle">12</text></g>
<polygon points="687.5,1513.0 691.1,1476.1 708.0,1477.8 707.0,1487.7 718.5,1488.8 715.9,1515.7" fill="#fff" stroke="#222" stroke-width="1.05" stroke-linejoin="miter"/>
<g transform="translate(702.2,1499.3) rotate(5.5)"><text x="0" y="-0.5" font-size="11" text-anchor="middle">C4</text><text x="0" y="11.0" font-size="11" text-anchor="middle">11</text></g>
<polygon points="600.4,1510.6 639.2,1514.3 636.5,1542.2 623.1,1540.9 622.9,1542.9 610.4,1541.7 610.0,1545.7 594.1,1544.1" fill="#5d5d5d" stroke="#333" stroke-width="1.05" stroke-linejoin="miter"/>
<g transform="translate(616.9,1526.3) rotate(5.5)"><text x="0" y="-0.5" font-size="11" text-anchor="middle">D2</text><text x="0" y="11.0" font-size="11" text-anchor="middle">01</text></g>
<polygon points="639.1,1514.8 635.3,1554.6 648.2,1555.9 648.7,1551.4 664.1,1552.9 667.5,1517.6" fill="#fff" stroke="#222" stroke-width="1.05" stroke-linejoin="miter"/>
<g transform="translate(651.9,1530.6) rotate(5.5)"><text x="0" y="-0.5" font-size="11" text-anchor="middle">C3</text><text x="0" y="11.0" font-size="11" text-anchor="middle">02</text></g>
<polygon points="667.5,1517.6 664.2,1551.4 675.2,1552.5 674.2,1562.4 692.1,1564.1 696.4,1520.3" fill="#fff" stroke="#222" stroke-width="1.05" stroke-linejoin="miter"/>
<g transform="translate(680.5,1533.4) rotate(5.5)"><text x="0" y="-0.5" font-size="11" text-anchor="middle">C5</text><text x="0" y="11.0" font-size="11" text-anchor="middle">03</text></g>
<polygon points="696.4,1520.3 692.1,1565.1 702.5,1566.1 702.5,1566.1 712.5,1567.1 716.8,1522.3" fill="#fff" stroke="#222" stroke-width="1.05" stroke-linejoin="miter"/>
<g transform="translate(705.2,1535.8) rotate(5.5)"><text x="0" y="-0.5" font-size="11" text-anchor="middle">A1</text><text x="0" y="11.0" font-size="11" text-anchor="middle">04</text></g>
<polygon points="714.9,1508.5 718.4,1471.7 737.9,1473.5 736.9,1483.5 745.4,1484.3 742.8,1511.2" fill="#fff" stroke="#222" stroke-width="1.05" stroke-linejoin="miter"/>
<g transform="translate(729.3,1494.8) rotate(5.5)"><text x="0" y="-0.5" font-size="11" text-anchor="middle">C4</text><text x="0" y="11.0" font-size="11" text-anchor="middle">10</text></g>
<polygon points="742.8,1511.2 746.3,1474.4 765.7,1476.2 764.8,1486.2 776.7,1487.3 774.1,1514.2" fill="#fff" stroke="#222" stroke-width="1.05" stroke-linejoin="miter"/>
<g transform="translate(758.9,1497.7) rotate(5.5)"><text x="0" y="-0.5" font-size="11" text-anchor="middle">C4</text><text x="0" y="11.0" font-size="11" text-anchor="middle">09</text></g>
<polygon points="774.1,1514.2 775.9,1495.3 784.4,1496.1 782.0,1521.0" fill="#fff" stroke="#222" stroke-width="1.05" stroke-linejoin="miter"/>
<path d="M775 1500L781 1497M775 1505L781 1502M775 1509L781 1506" stroke="#777" stroke-width="2"/>
<polygon points="781.9,1522.0 785.6,1484.2 800.0,1485.5 800.4,1481.1 815.9,1482.6 814.7,1495.0 825.6,1496.1 822.7,1525.9" fill="#fff" stroke="#222" stroke-width="1.05" stroke-linejoin="miter"/>
<g transform="translate(802.5,1506.9) rotate(5.5)"><text x="0" y="-0.5" font-size="11" text-anchor="middle">E1</text><text x="0" y="11.0" font-size="11" text-anchor="middle">08</text></g>
<polygon points="713.9,1508.4 794.5,1516.2 793.9,1522.6 713.3,1514.9" fill="#fff" stroke="#222" stroke-width="1.05" stroke-linejoin="miter"/>
<polygon points="719.8,1515.5 754.1,1518.8 750.7,1554.1 720.8,1551.3 721.7,1542.3 713.7,1541.5" fill="#fff" stroke="#222" stroke-width="1.05" stroke-linejoin="miter"/>
<g transform="translate(735.6,1530.6) rotate(5.5)"><text x="0" y="-0.5" font-size="11" text-anchor="middle">D1</text><text x="0" y="11.0" font-size="11" text-anchor="middle">05</text></g>
<polygon points="754.1,1518.8 789.9,1522.3 787.2,1550.6 774.3,1549.4 773.5,1556.8 750.6,1554.6" fill="#fff" stroke="#222" stroke-width="1.05" stroke-linejoin="miter"/>
<g transform="translate(770.7,1534.0) rotate(5.5)"><text x="0" y="-0.5" font-size="11" text-anchor="middle">D1</text><text x="0" y="11.0" font-size="11" text-anchor="middle">06</text></g>
<polygon points="790.3,1518.8 829.1,1522.5 827.3,1541.4 829.3,1541.6 828.5,1549.6 826.2,1552.4 814.3,1551.2 813.4,1560.2 795.5,1558.5 796.0,1553.5 787.0,1552.6" fill="#fff" stroke="#222" stroke-width="1.05" stroke-linejoin="miter"/>
<g transform="translate(808.0,1537.6) rotate(5.5)"><text x="0" y="-0.5" font-size="11" text-anchor="middle">E2</text><text x="0" y="11.0" font-size="11" text-anchor="middle">07</text></g>
<circle cx="754.2" cy="1466.5" r="1.3" fill="#222"/>
<circle cx="819.1" cy="1475.7" r="1.3" fill="#222"/>
<circle cx="805" cy="1566.3" r="1.3" fill="#222"/>
<circle cx="644.6" cy="1464.3" r="1.3" fill="#222"/>
<circle cx="697.5" cy="1470.8" r="1.3" fill="#222"/>
<circle cx="427" cy="1348" r="1.3" fill="#222"/>
<circle cx="455" cy="1364" r="1.3" fill="#222"/>
<circle cx="513" cy="1412" r="1.3" fill="#222"/>
<circle cx="566" cy="1442" r="1.3" fill="#222"/>
<circle cx="356" cy="1413" r="1.3" fill="#222"/>
<circle cx="379.6" cy="1509" r="10" fill="#444"/><text x="379.6" y="1513" font-size="10.5" font-weight="bold" fill="#c8c8c8" text-anchor="middle">N</text><path d="M379.6 1498.5V1488M374.3 1493.5L379.6 1487.5L385 1493.5" fill="none" stroke="#222" stroke-width="1.1" stroke-dasharray="1.6 0.8"/>
</g>

<!-- WALLS -->
<g id="walls" fill="#1b1b1b">
<rect x="665.6" y="528.3" width="71.2" height="11.5"/>
<rect x="894.6" y="528.3" width="72.9" height="11.5"/>
<rect x="952.8" y="528.3" width="14.7" height="690.2"/>
<rect x="665.6" y="528.3" width="11.5" height="36.7"/>
<rect x="665.6" y="634.7" width="11.5" height="33.8"/>
<rect x="670.5" y="660" width="6.8" height="293.5"/>
<rect x="664.8" y="946.8" width="12.7" height="6.7"/>
<rect x="452" y="657.7" width="49" height="11.3"/>
<rect x="638.6" y="657.7" width="38.5" height="11.3"/>
<rect x="452" y="657.7" width="11.2" height="99.3"/>
<rect x="456.5" y="750" width="6.8" height="203.4"/>
<rect x="457" y="892.7" width="22" height="7.3"/>
<rect x="571" y="892.7" width="28.4" height="7.3"/>
<rect x="588.4" y="892.7" width="11.0" height="60.7"/>
<rect x="457" y="947" width="150.6" height="6.4"/>
<rect x="211.8" y="746.4" width="53.6" height="11.3"/>
<rect x="402.7" y="746.4" width="55.9" height="11.3"/>
<rect x="212" y="746.4" width="14.7" height="472.4"/>
<rect x="212" y="1203.5" width="470" height="15.5"/>
<rect x="226" y="1024.4" width="29" height="6.3"/>
<rect x="392.7" y="1024.4" width="35.3" height="6.3"/>
<rect x="413.6" y="1024.4" width="6.8" height="64.2"/>
<rect x="226" y="1081" width="194.4" height="7.6"/>
<rect x="486.4" y="1024" width="65.6" height="6.7"/>
<rect x="539.3" y="1018.7" width="6.3" height="5.8"/>
<rect x="490.6" y="1024" width="7.7" height="180"/>
<rect x="614.3" y="1024" width="6.7" height="180"/>
<rect x="609.6" y="1024" width="11.4" height="7"/>
<rect x="690.7" y="1024" width="7.5" height="88.7"/>
<rect x="614" y="1101.8" width="84.2" height="10.9"/>
<rect x="670.9" y="1112" width="6.7" height="5.7"/>
<rect x="671.4" y="1187.4" width="10.6" height="31.8"/>
<rect x="681" y="1193.3" width="11.4" height="10.1"/>
<rect x="762" y="1193.3" width="13.5" height="9.2"/>
<rect x="773.5" y="1148" width="11.2" height="70.5"/>
<rect x="773.5" y="1204.3" width="194.0" height="14.2"/>
<rect x="440" y="501.5" width="53.5" height="52.5"/>
</g>

<!-- ROOM LABELS -->
<g id="labels" fill="#111" font-family="Liberation Sans" stroke="#fff" stroke-width="0.15">
<text x="516" y="568.7" font-size="16" textLength="91" lengthAdjust="spacing">BALCONY/</text>
<text x="537" y="590.4" font-size="16" textLength="51" lengthAdjust="spacing">PATIO</text>
<text x="780.7" y="672" font-size="20.5" textLength="79" lengthAdjust="spacing">LIVING</text>
<text x="777.7" y="852" font-size="21" textLength="86.5" lengthAdjust="spacing">DINING</text>
<text x="508.1" y="800.2" font-size="21.5" textLength="124" lengthAdjust="spacing">BEDROOM</text>
<text x="294" y="882.3" font-size="20.5" textLength="93.4" lengthAdjust="spacing">MASTER</text>
<text x="278.8" y="911.4" font-size="20.5" textLength="122.7" lengthAdjust="spacing">BEDROOM</text>
<text x="348.6" y="1127.7" font-size="16.5" textLength="75" lengthAdjust="spacing">ENSUITE</text>
<text x="562" y="1075.4" font-size="14" textLength="43.4" lengthAdjust="spacing">MAIN</text>
<text x="562" y="1093.6" font-size="14" textLength="43" lengthAdjust="spacing">BATH</text>
<text x="644.2" y="1082.7" font-size="11" textLength="24.8" lengthAdjust="spacing">W/D</text>
<text x="770.2" y="1116.2" font-size="20.5" textLength="101.8" lengthAdjust="spacing">KITCHEN</text>
</g>

<!-- ANNOTATIONS -->
<g id="annot" fill="none" stroke="#1e1e1e" stroke-width="1.3" stroke-linecap="round">
<path d="M340 597C385 590 470 598 529.6 621"/>
<path d="M515.7 609.8L529.6 621L513.2 621.6"/>
<path d="M1012.7 746C985 741 890 741 809.9 768.3"/>
<path d="M821.3 757L809.9 768.3L828.4 767"/>
<path d="M1000.3 991C975 985 900 982 848.3 1004.8"/>
<path d="M861.4 997.3L848.3 1004.8L862.6 1004.8"/>
<path d="M151.7 991.9L170 991.5C200 990 215 989 226 987C300 975 430 955 516.6 914.6"/>
<path d="M502 914L516.6 914.6L508 925"/>
<path d="M151.7 991.9C180 993 205 995 225 998C260 1005 290 1015 326 1044.5"/>
<path d="M317 1032L326 1044.5L310.8 1040.8"/>
<path d="M158.5 1133C170 1114 190 1107 212 1104.8C230 1103 245 1105 259.2 1115"/>
<path d="M245.3 1104L259.2 1115L249 1115.8"/>
<path d="M280.6 1278.5C330 1262 380 1242 398.8 1217.5"/>
<path d="M409 1198L416.6 1183L411 1192M416.6 1183L417 1196"/>
</g>
<g id="annot-text" fill="#111" font-family="Liberation Sans" font-style="italic" stroke="#fff" stroke-width="0.15">
<text x="196.4" y="575.3" font-size="20.5" textLength="178.8" lengthAdjust="spacingAndGlyphs">Covered outdoor space</text>
<text x="248" y="599.2" font-size="20.5" textLength="75.6" lengthAdjust="spacingAndGlyphs">with light</text>
<text x="1024.3" y="759.5" font-size="22" textLength="122.2" lengthAdjust="spacingAndGlyphs">9 foot ceilings!</text>
<text x="994.4" y="1017.9" font-size="20.5" textLength="141.9" lengthAdjust="spacingAndGlyphs">Oversized granite</text>
<text x="1025.5" y="1041.4" font-size="20.5" textLength="78.9" lengthAdjust="spacingAndGlyphs">dining bar</text>
<text x="49.3" y="991.9" font-size="20.5" textLength="89" lengthAdjust="spacingAndGlyphs">Closet light</text>
<text x="61.9" y="1014.6" font-size="20.5" textLength="61.3" lengthAdjust="spacingAndGlyphs">included</text>
<text x="40.9" y="1159.8" font-size="20.5" textLength="141.9" lengthAdjust="spacingAndGlyphs">Oversized shower</text>
<text x="45.1" y="1184.2" font-size="20.5" textLength="134.4" lengthAdjust="spacingAndGlyphs">with glass doors</text>
<text x="144.9" y="1273.9" font-size="20.5" textLength="126.3" lengthAdjust="spacingAndGlyphs">Dual sinks over</text>
<text x="128.8" y="1298" font-size="20.5" textLength="157.2" lengthAdjust="spacingAndGlyphs">granite countertops</text>
</g>

<!-- FOOTER -->
<text x="180.8" y="1607.7" font-size="9.6" fill="#2a2a2a" textLength="801.6" lengthAdjust="spacingAndGlyphs">THE ACTUAL AREA OF THE STRATA LOT IS DETERMINED BY A B.C. LAND SURVEYOR IN ACCORDANCE WITH THE STRATA PROPERTY ACT (BRITISH COLUMBIA). SIZES ARE APPROXIMATE. E &amp;OE.</text>
<text x="584.7" y="1404.4" font-size="20.5" fill="#111" stroke="#fff" stroke-width="0.3" textLength="150" lengthAdjust="spacing">LEVELS 1 - 4</text>

<!-- SCAN NOISE -->
<g fill="#333">
<circle cx="121.4" cy="64" r="1.1"/>
<rect x="276" y="1452.5" width="3.5" height="4.5" fill="#555"/>
</g>

</svg>
</body></html>
